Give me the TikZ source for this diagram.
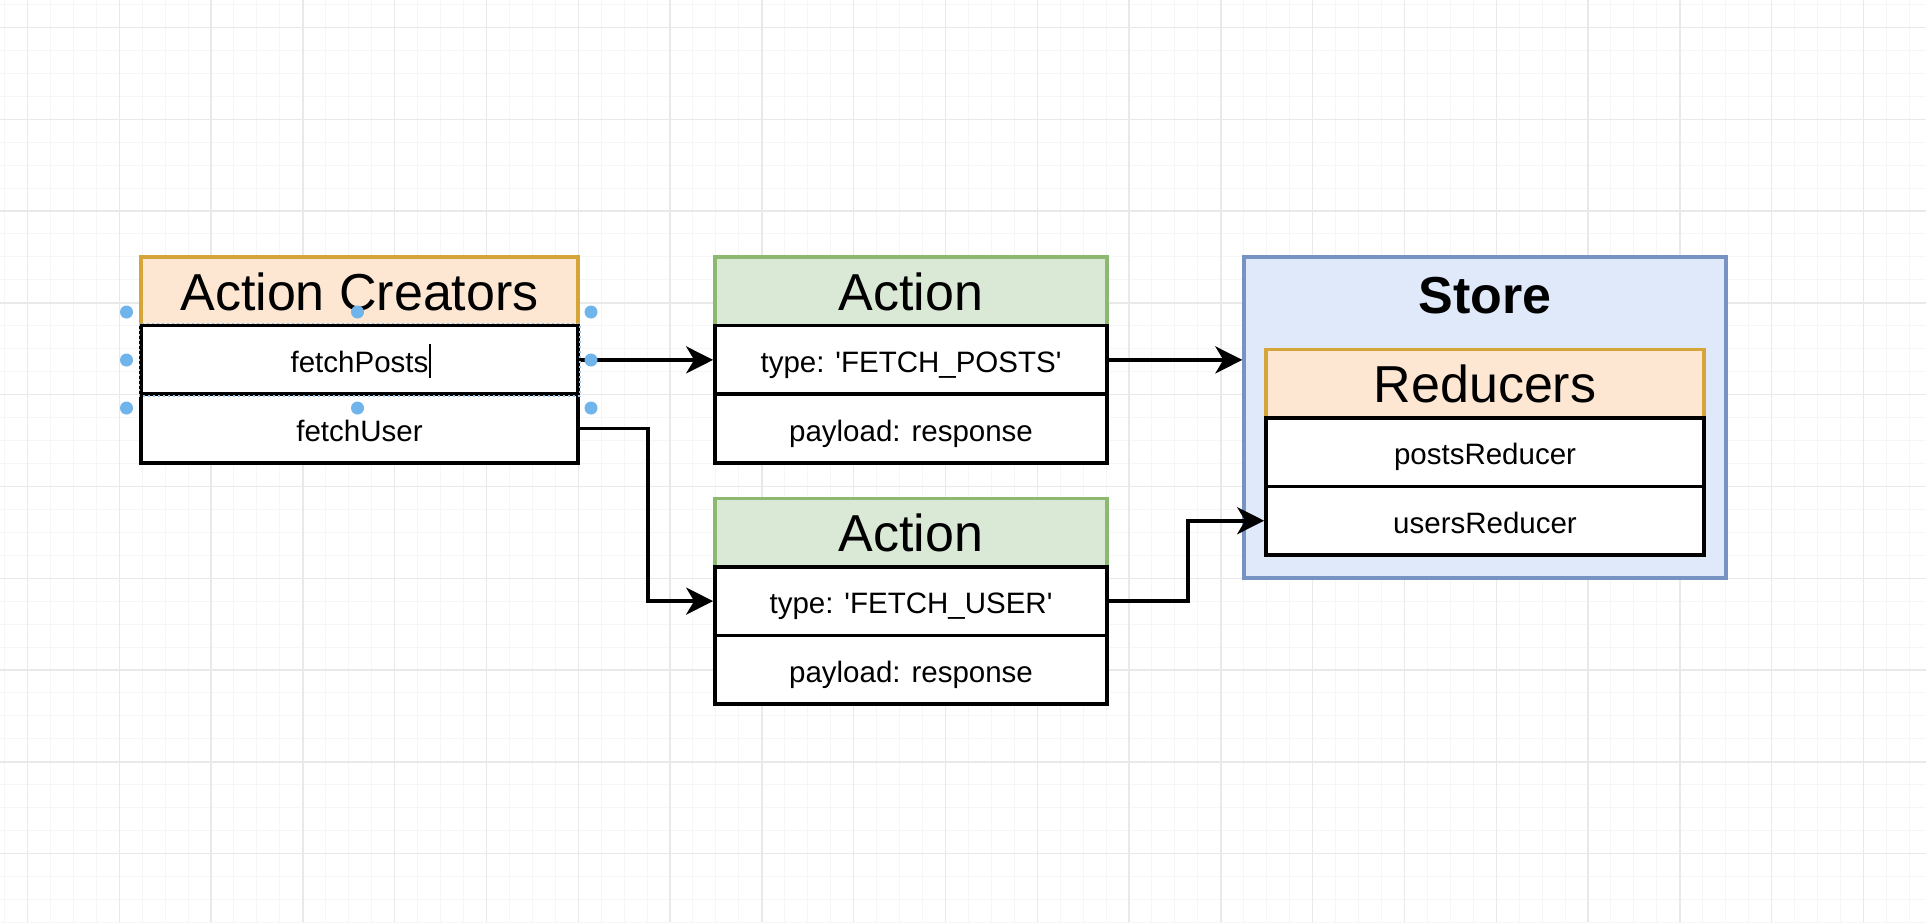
\documentclass[tikz,border=0pt]{standalone}
\usepackage{fontspec}
\setmainfont{Liberation Sans}[Ligatures=TeXOff]
\usetikzlibrary{arrows.meta,calc}
\definecolor{orfill}{HTML}{FDE7D3}
\definecolor{ordraw}{HTML}{D6A53A}
\definecolor{grfill}{HTML}{DAE8D6}
\definecolor{grdraw}{HTML}{8DB86F}
\definecolor{blfill}{HTML}{DFE9FA}
\definecolor{bldraw}{HTML}{7693C2}
\definecolor{gridmajor}{HTML}{E9E9E9}
\definecolor{gridminor}{HTML}{F6F6F6}
\definecolor{handle}{HTML}{6FB4EA}
\definecolor{selline}{HTML}{9FC3E6}
\tikzset{
  hdr/.style={rectangle, inner sep=0pt, line width=3.3pt, minimum height=68.6pt,
    font=\fontsize{52}{60}\selectfont, text height=37.5pt, text depth=0pt},
  orhdr/.style={hdr, fill=orfill, draw=ordraw},
  grhdr/.style={hdr, fill=grfill, draw=grdraw},
  rowbox/.style={rectangle, inner sep=0pt, line width=3.7pt, minimum height=68.6pt,
    draw=black, fill=white, font=\fontsize{29.5}{35}\selectfont, text height=25pt, text depth=0pt},
  acw/.style={minimum width=437pt},
  aw/.style={minimum width=392pt},
  rw/.style={minimum width=438pt},
  arr/.style={line width=3.8pt, -{Stealth[length=27pt, width=27pt, inset=8pt]}},
  minorgrid/.style={gridminor, line width=1pt},
  majorgrid/.style={gridmajor, line width=1.4pt},
  handledot/.style={circle, fill=handle, inner sep=0pt, minimum size=13pt},
}
\begin{document}
\begin{tikzpicture}[x=1pt, y=-1pt]
\useasboundingbox (0,0) rectangle (1926,922);
\fill[white] (0,0) rectangle (1926,922);
% grid
\foreach \i in {0,...,84} {
  \pgfmathsetmacro\xx{4.45+22.95*\i}
  \draw[minorgrid] (\xx,0) -- (\xx,922);
}
\foreach \i in {0,...,40} {
  \pgfmathsetmacro\yy{4.45+22.95*\i}
  \draw[minorgrid] (0,\yy) -- (1926,\yy);
}
\foreach \i in {0,...,20} {
  \pgfmathsetmacro\xx{27.4+91.8*\i}
  \draw[majorgrid] (\xx,0) -- (\xx,922);
}
\foreach \i in {0,...,9} {
  \pgfmathsetmacro\yy{27.4+91.8*\i}
  \draw[majorgrid] (0,\yy) -- (1926,\yy);
}

% Action Creators
\node[orhdr, acw] (ach) at (359.5,291.3) {Action Creators};
\node[rowbox, acw] (acp) at (359.5,359.9) {fetchPosts};
\node[rowbox, acw] (acu) at (359.5,428.5) {fetchUser};

% Action 1
\node[grhdr, aw] (a1h) at (911,291.3) {Action};
\node[rowbox, aw] (a1t) at (911,359.9) {type: 'FETCH\_POSTS'};
\node[rowbox, aw] (a1p) at (911,428.5) {payload: response};

% Action 2
\node[grhdr, aw] (a2h) at (911,532.5) {Action};
\node[rowbox, aw] (a2t) at (911,601.1) {type: 'FETCH\_USER'};
\node[rowbox, aw] (a2p) at (911,669.7) {payload: response};

% Store
\node[rectangle, inner sep=0pt, line width=3.3pt, draw=bldraw, fill=blfill,
      minimum width=482pt, minimum height=321pt] (store) at (1485,417.5) {};
\node[font=\fontsize{52}{60}\selectfont\bfseries, text height=37.5pt, text depth=0pt,
      inner sep=0pt] (storelbl) at (1485,294.5) {Store};
\node[orhdr, rw] (rh) at (1485,383.5) {Reducers};
\node[rowbox, rw] (rp) at (1485,452.1) {postsReducer};
\node[rowbox, rw] (ru) at (1485,520.7) {usersReducer};

% connectors
\draw[arr] (acp.east) -- (a1t.west);
\draw[arr] (acu.east) -- ++(68,0) |- (a2t.west);
\draw[arr] (a1t.east) -- (store.west |- a1t.east);
\draw[arr] (a2t.east) -- ++(79.5,0) |- (ru.west);

% selection of fetchPosts
\draw[selline, line width=1.3pt, dash pattern=on 2.5pt off 2.5pt]
  (acp.south west) rectangle (acp.north east);
\draw[black, line width=1.5pt] (430,344) -- (430,378);
\node[handledot] (h1) at (126.5,312) {};
\node[handledot] (h2) at (357.5,312) {};
\node[handledot] (h3) at (591,312) {};
\node[handledot] (h4) at (126.5,360) {};
\node[handledot] (h5) at (591,360) {};
\node[handledot] (h6) at (126.5,408) {};
\node[handledot] (h7) at (357.5,408) {};
\node[handledot] (h8) at (591,408) {};
\end{tikzpicture}
\end{document}
